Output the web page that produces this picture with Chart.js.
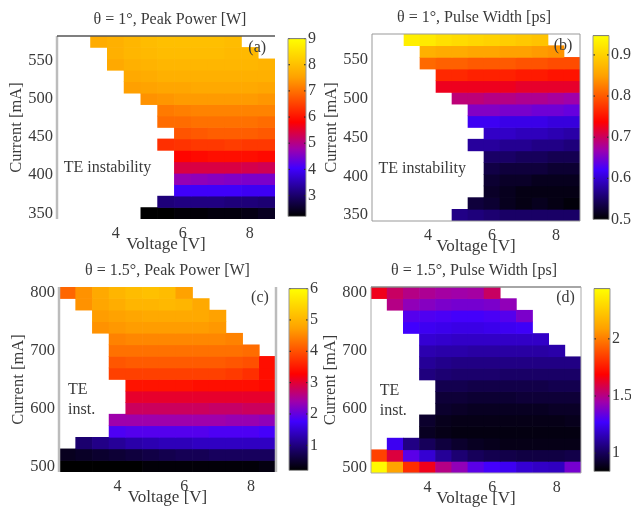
<!DOCTYPE html>
<html>
<head>
<meta charset="utf-8">
<title>Peak power and pulse width maps</title>
<script src="https://cdn.jsdelivr.net/npm/chart.js@4/dist/chart.umd.min.js"></script>
<style>
    html, body { margin: 0; background: #fff; }
    #page { position: relative; width: 631px; height: 509px; overflow: hidden; }
    canvas { position: absolute; filter: blur(0.6px); }
</style>
</head>
<body>
<div id="page"></div>
<script>
const _ = null; // white cell, no data (TE instability or outside the scan)

const voltages = [2.5, 3, 3.5, 4, 4.5, 5, 5.5, 6, 6.5, 7, 7.5, 8, 8.5];
const currentsA = [575, 560, 545, 530, 515, 500, 485, 470, 455, 440, 425, 410, 395, 380, 365, 350];
const currentsB = [800, 780, 760, 740, 720, 700, 680, 660, 640, 620, 600, 580, 560, 540, 520, 500];

const powerOne = [
    [_, _, 7.7, 7.75, 7.85, 7.95, 8.0, 8.0, 8.0, 8.0, 7.95, _, _],
    [_, _, _, 7.75, 7.85, 7.9, 7.95, 7.95, 7.95, 7.95, 7.9, 7.9, _],
    [_, _, _, 7.65, 7.75, 7.8, 7.85, 7.85, 7.85, 7.85, 7.85, 7.85, 7.8],
    [_, _, _, _, 7.65, 7.7, 7.75, 7.75, 7.75, 7.75, 7.75, 7.75, 7.75],
    [_, _, _, _, 7.5, 7.55, 7.6, 7.6, 7.65, 7.65, 7.65, 7.65, 7.6],
    [_, _, _, _, _, 7.35, 7.4, 7.45, 7.45, 7.45, 7.45, 7.45, 7.4],
    [_, _, _, _, _, _, 7.1, 7.15, 7.2, 7.2, 7.2, 7.2, 7.2],
    [_, _, _, _, _, _, 6.95, 6.95, 7.0, 7.0, 7.0, 7.0, 6.95],
    [_, _, _, _, _, _, _, 6.7, 6.75, 6.8, 6.8, 6.8, 6.75],
    [_, _, _, _, _, _, 6.3, 6.35, 6.4, 6.4, 6.45, 6.4, 6.4],
    [_, _, _, _, _, _, _, 5.85, 5.9, 5.95, 5.95, 5.95, 5.9],
    [_, _, _, _, _, _, _, 5.4, 5.4, 5.4, 5.4, 5.35, 5.3],
    [_, _, _, _, _, _, _, 4.7, 4.65, 4.6, 4.55, 4.5, 4.5],
    [_, _, _, _, _, _, _, 4.0, 4.0, 4.0, 4.0, 3.95, 3.95],
    [_, _, _, _, _, _, 3.1, 3.15, 3.15, 3.15, 3.1, 3.1, 3.05],
    [_, _, _, _, _, 2.2, 2.2, 2.25, 2.25, 2.3, 2.3, 2.35, 2.45]
];
const widthOne = [
    [_, _, 0.93, 0.925, 0.915, 0.91, 0.905, 0.9, 0.895, 0.89, 0.885, _, _],
    [_, _, _, 0.865, 0.86, 0.86, 0.855, 0.855, 0.85, 0.85, 0.845, 0.84, _],
    [_, _, _, 0.81, 0.805, 0.805, 0.8, 0.8, 0.8, 0.795, 0.795, 0.79, 0.79],
    [_, _, _, _, 0.765, 0.765, 0.76, 0.76, 0.76, 0.755, 0.755, 0.75, 0.75],
    [_, _, _, _, 0.725, 0.725, 0.725, 0.725, 0.725, 0.72, 0.72, 0.72, 0.72],
    [_, _, _, _, _, 0.69, 0.69, 0.685, 0.685, 0.68, 0.68, 0.675, 0.67],
    [_, _, _, _, _, _, 0.655, 0.655, 0.65, 0.65, 0.645, 0.645, 0.64],
    [_, _, _, _, _, _, 0.615, 0.615, 0.61, 0.61, 0.61, 0.605, 0.605],
    [_, _, _, _, _, _, _, 0.595, 0.595, 0.59, 0.59, 0.585, 0.58],
    [_, _, _, _, _, _, 0.575, 0.575, 0.57, 0.57, 0.565, 0.565, 0.56],
    [_, _, _, _, _, _, _, 0.55, 0.55, 0.545, 0.545, 0.54, 0.54],
    [_, _, _, _, _, _, _, 0.535, 0.53, 0.53, 0.53, 0.525, 0.525],
    [_, _, _, _, _, _, _, 0.525, 0.52, 0.52, 0.515, 0.515, 0.515],
    [_, _, _, _, _, _, _, 0.52, 0.515, 0.51, 0.51, 0.51, 0.51],
    [_, _, _, _, _, _, 0.53, 0.525, 0.515, 0.51, 0.515, 0.51, 0.505],
    [_, _, _, _, _, 0.565, 0.56, 0.555, 0.55, 0.55, 0.55, 0.55, 0.55]
];
const powerOneFive = [
    [4.2, 4.6, 4.85, 5.0, 5.1, 5.15, 5.1, 4.75, _, _, _, _, _],
    [_, 4.6, 4.8, 4.9, 5.0, 5.0, 5.05, 5.0, 4.85, _, _, _, _],
    [_, _, 4.7, 4.75, 4.8, 4.85, 4.85, 4.85, 4.85, 4.75, _, _, _],
    [_, _, 4.6, 4.65, 4.7, 4.7, 4.7, 4.7, 4.7, 4.65, _, _, _],
    [_, _, _, 4.45, 4.5, 4.5, 4.5, 4.5, 4.5, 4.5, 4.45, _, _],
    [_, _, _, 4.3, 4.3, 4.3, 4.3, 4.3, 4.3, 4.3, 4.3, 4.25, _],
    [_, _, _, 4.05, 4.1, 4.1, 4.1, 4.1, 4.1, 4.1, 4.05, 4.0, 3.4],
    [_, _, _, 3.85, 3.85, 3.85, 3.85, 3.85, 3.85, 3.85, 3.8, 3.7, 3.4],
    [_, _, _, _, 3.45, 3.45, 3.45, 3.45, 3.4, 3.4, 3.4, 3.4, 3.35],
    [_, _, _, _, 3.05, 3.05, 3.05, 3.05, 3.05, 3.05, 3.05, 3.05, 3.05],
    [_, _, _, _, 2.8, 2.8, 2.8, 2.8, 2.8, 2.75, 2.75, 2.8, 2.8],
    [_, _, _, 2.4, 2.4, 2.4, 2.4, 2.4, 2.4, 2.4, 2.35, 2.35, 2.3],
    [_, _, _, 1.85, 1.9, 1.9, 1.9, 1.9, 1.9, 1.85, 1.85, 1.85, 1.8],
    [_, 0.9, 1.05, 1.15, 1.25, 1.3, 1.35, 1.35, 1.4, 1.4, 1.4, 1.4, 1.4],
    [0.4, 0.45, 0.5, 0.55, 0.6, 0.65, 0.7, 0.75, 0.75, 0.8, 0.8, 0.8, 0.8],
    [0.2, 0.2, 0.2, 0.2, 0.2, 0.25, 0.25, 0.25, 0.25, 0.25, 0.25, 0.25, 0.3]
];
const widthOneFive = [
    [1.65, 1.55, 1.5, 1.48, 1.46, 1.45, 1.46, 1.55, _, _, _, _, _],
    [_, 1.5, 1.42, 1.4, 1.38, 1.37, 1.37, 1.38, 1.42, _, _, _, _],
    [_, _, 1.31, 1.3, 1.29, 1.28, 1.28, 1.29, 1.31, 1.38, _, _, _],
    [_, _, 1.27, 1.25, 1.24, 1.23, 1.23, 1.24, 1.25, 1.26, _, _, _],
    [_, _, _, 1.2, 1.19, 1.18, 1.18, 1.18, 1.18, 1.18, 1.18, _, _],
    [_, _, _, 1.14, 1.13, 1.13, 1.12, 1.12, 1.12, 1.12, 1.12, 1.13, _],
    [_, _, _, 1.1, 1.08, 1.07, 1.07, 1.07, 1.07, 1.07, 1.07, 1.07, 1.07],
    [_, _, _, 1.06, 1.04, 1.03, 1.03, 1.03, 1.02, 1.02, 1.02, 1.02, 1.02],
    [_, _, _, _, 0.98, 0.98, 0.97, 0.97, 0.97, 0.97, 0.97, 0.98, 0.98],
    [_, _, _, _, 0.94, 0.94, 0.93, 0.93, 0.93, 0.94, 0.94, 0.94, 0.94],
    [_, _, _, _, 0.92, 0.91, 0.9, 0.9, 0.9, 0.9, 0.9, 0.91, 0.91],
    [_, _, _, 0.92, 0.89, 0.88, 0.88, 0.88, 0.88, 0.88, 0.88, 0.88, 0.89],
    [_, _, _, 0.9, 0.88, 0.87, 0.87, 0.87, 0.87, 0.87, 0.87, 0.87, 0.87],
    [_, 1.25, 1.07, 1.0, 0.95, 0.92, 0.9, 0.89, 0.88, 0.88, 0.88, 0.88, 0.88],
    [1.85, 1.6, 1.32, 1.2, 1.1, 1.04, 1.0, 0.98, 0.97, 0.96, 0.96, 0.96, 0.97],
    [2.42, 2.1, 1.8, 1.65, 1.5, 1.42, 1.32, 1.28, 1.25, 1.2, 1.18, 1.17, 1.37]
];

const voltageTicks = [4, 6, 8];
const currentTicksA = [350, 400, 450, 500, 550];
const currentTicksB = [500, 600, 700, 800];

// colormap: black, blue, red, yellow
const cmapStops = [
    [0, [0, 0, 0]], [0.1, [22, 0, 90]], [0.27, [64, 0, 255]], [0.38, [160, 0, 170]],
    [0.53, [255, 0, 0]], [0.78, [255, 160, 0]], [1, [255, 255, 0]]
];

function cmap(t) {
    t = Math.min(1, Math.max(0, t));
    for (let i = 1; i < cmapStops.length; i++) {
        const [t1, c1] = cmapStops[i];
        if (t <= t1) {
            const [t0, c0] = cmapStops[i - 1];
            const f = (t - t0) / (t1 - t0);
            const c = c0.map((v, k) => Math.round(v + (c1[k] - v) * f));
            return `rgb(${c[0]},${c[1]},${c[2]})`;
        }
    }
    return 'rgb(255,255,0)';
}

const fontFamily = '"Liberation Serif", serif';
const textColor = '#3a3a3a';
const gutterLeft = 52, titleSpace = 28, gutterBottom = 36;

const panels = [
    {
        title: 'θ = 1°, Peak Power [W]', matrix: powerOne, currents: currentsA, step: 15,
        yMin: 342.5, yMax: 582.5, yTicks: currentTicksA,
        plot: [57, 36, 275, 219], titleShift: 4,
        frame: { left: [2.5, '#bcbcbc'], top: [1.5, '#555'] },
        notes: [['(a)', 8.22, 567, 'center'], ['TE instability', 2.45, 409, 'left']],
        bar: [287, 37, 305, 218], range: [2.2, 9], barTicks: [3, 4, 5, 6, 7, 8, 9]
    },
    {
        title: 'θ = 1°, Pulse Width [ps]', matrix: widthOne, currents: currentsA, step: 15,
        yMin: 342.5, yMax: 582.5, yTicks: currentTicksA,
        plot: [372, 34, 580, 221], titleShift: -2,
        frame: { left: [1, '#999'], top: [1, '#999'], right: [1, '#999'], bottom: [1, '#999'] },
        notes: [['(b)', 8.22, 567, 'center'], ['TE instability', 2.45, 409, 'left']],
        bar: [592, 34, 608, 221], range: [0.5, 0.947], barTicks: [0.5, 0.6, 0.7, 0.8, 0.9]
    },
    {
        title: 'θ = 1.5°, Peak Power [W]', matrix: powerOneFive, currents: currentsB, step: 20,
        yMin: 490, yMax: 810, yTicks: currentTicksB,
        plot: [59, 287, 276, 472], titleShift: 0,
        frame: { left: [2.5, '#bcbcbc'], right: [2.5, '#bcbcbc'] },
        notes: [['(c)', 8.27, 791, 'center'], ['TE', 2.52, 632, 'left'], ['inst.', 2.52, 597, 'left']],
        bar: [288, 287, 307, 472], range: [0.2, 6], barTicks: [1, 2, 3, 4, 5, 6]
    },
    {
        title: 'θ = 1.5°, Pulse Width [ps]', matrix: widthOneFive, currents: currentsB, step: 20,
        yMin: 490, yMax: 810, yTicks: currentTicksB,
        plot: [371, 287, 581, 473], titleShift: -2,
        frame: { left: [1, '#aaa'], top: [1.5, '#888'], right: [1, '#aaa'], bottom: [1, '#aaa'] },
        notes: [['(d)', 8.27, 791, 'center'], ['TE', 2.52, 632, 'left'], ['inst.', 2.52, 597, 'left']],
        bar: [593, 287, 609, 473], range: [0.84, 2.44], barTicks: [1, 1.5, 2]
    }
];

// Side lines, inner colorbar ticks and the text notes inside the axes
const panelDecor = {
    id: 'panelDecor',
    afterLayout(chart, args, opts) {
        if (opts.titleShift && chart.titleBlock) {
            chart.titleBlock.left += opts.titleShift;
            chart.titleBlock.right += opts.titleShift;
        }
    },
    afterDatasetsDraw(chart, args, opts) {
        const { ctx, chartArea: a, scales } = chart;
        ctx.save();
        (opts.notes || []).forEach(([text, x, y, align]) => {
            ctx.font = '16px ' + fontFamily;
            ctx.fillStyle = textColor;
            ctx.textAlign = align;
            ctx.textBaseline = 'middle';
            ctx.fillText(text, scales.x.getPixelForValue(x), scales.y.getPixelForValue(y));
        });
        (opts.innerTicks || []).forEach(v => {
            const py = scales.y.getPixelForValue(v);
            ctx.fillStyle = '#222';
            ctx.fillRect(a.left, py - 0.5, 2, 1);
            ctx.fillRect(a.right - 2, py - 0.5, 2, 1);
        });
        const sides = opts.frame || {};
        Object.keys(sides).forEach(side => {
            const [w, color] = sides[side];
            ctx.strokeStyle = color;
            ctx.lineWidth = w;
            ctx.beginPath();
            if (side === 'left' || side === 'right') {
                const x = a[side];
                ctx.moveTo(x, a.top);
                ctx.lineTo(x, a.bottom);
            } else {
                const y = a[side];
                ctx.moveTo(a.left, y);
                ctx.lineTo(a.right, y);
            }
            ctx.stroke();
        });
        ctx.restore();
    }
};

function addCanvas(left, top, width, height) {
    const canvas = document.createElement('canvas');
    canvas.style.left = left + 'px';
    canvas.style.top = top + 'px';
    canvas.style.width = width + 'px';
    canvas.style.height = height + 'px';
    canvas.width = width;
    canvas.height = height;
    document.getElementById('page').appendChild(canvas);
    return canvas;
}

function tickFont(size) {
    return { family: fontFamily, size: size };
}

function fixedTicks(values) {
    return axis => { axis.ticks = values.map(value => ({ value })); };
}

function drawHeatmap(p) {
    const [x0, y0, x1, y1] = p.plot;
    const canvas = addCanvas(x0 - gutterLeft, y0 - titleSpace, gutterLeft + x1 - x0 + 3, titleSpace + y1 - y0 + gutterBottom);
    const [lo, hi] = p.range;

    // one floating-bar dataset per current row
    const datasets = p.currents.map((current, r) => ({
        data: voltages
            .map((voltage, c) => ({ x: voltage, y: [current - p.step / 2, current + p.step / 2], v: p.matrix[r][c] }))
            .filter(cell => cell.v !== null),
        backgroundColor: ctx => cmap((ctx.raw.v - lo) / (hi - lo)),
        barPercentage: 1,
        categoryPercentage: 1,
        grouped: false
    }));

    new Chart(canvas, {
        type: 'bar',
        data: { datasets },
        plugins: [panelDecor],
        options: {
            responsive: false,
            animation: false,
            layout: { padding: { right: 3 } },
            plugins: {
                legend: { display: false },
                tooltip: { enabled: false },
                title: {
                    display: true,
                    text: p.title,
                    color: textColor,
                    fullSize: false,
                    font: { family: fontFamily, size: 16, weight: 'normal', lineHeight: '20px' },
                    padding: { top: 2, bottom: 6 }
                },
                panelDecor: { frame: p.frame, notes: p.notes, titleShift: p.titleShift }
            },
            scales: {
                x: {
                    type: 'linear', min: 2.25, max: 8.75, offset: false,
                    afterBuildTicks: fixedTicks(voltageTicks),
                    afterFit: scale => { scale.height = gutterBottom; },
                    grid: { display: false, drawTicks: false },
                    border: { display: false },
                    ticks: { color: textColor, font: tickFont(16), padding: 5, maxRotation: 0, callback: v => String(v) },
                    title: { display: true, text: 'Voltage [V]', color: textColor, font: tickFont(17), padding: 0 }
                },
                y: {
                    min: p.yMin, max: p.yMax,
                    afterBuildTicks: fixedTicks(p.yTicks),
                    afterFit: scale => { scale.width = gutterLeft; },
                    grid: { display: false, drawTicks: false },
                    border: { display: false },
                    ticks: { color: textColor, font: tickFont(16.5), padding: 4, callback: v => String(v) },
                    title: { display: true, text: 'Current [mA]', color: textColor, font: tickFont(16.5), padding: { top: 2, bottom: 2 } }
                }
            }
        }
    });
}

function drawColorbar(p) {
    const [x0, y0, x1, y1] = p.bar;
    const pad = 10, labelSpace = 30;
    const canvas = addCanvas(x0, y0 - pad, Math.min(x1 - x0 + labelSpace, 631 - x0), y1 - y0 + 2 * pad);
    const [lo, hi] = p.range;

    new Chart(canvas, {
        type: 'bar',
        data: {
            labels: [''],
            datasets: [{
                data: [[lo, hi]],
                barPercentage: 1,
                categoryPercentage: 1,
                backgroundColor: ctx => {
                    const area = ctx.chart.chartArea;
                    if (!area) return '#000';
                    const g = ctx.chart.ctx.createLinearGradient(0, area.bottom, 0, area.top);
                    for (let i = 0; i < cmapStops.length; i++) {
                        g.addColorStop(cmapStops[i][0], cmap(cmapStops[i][0]));
                    }
                    return g;
                }
            }]
        },
        plugins: [panelDecor],
        options: {
            responsive: false,
            animation: false,
            layout: { padding: { top: pad, bottom: pad, left: 1 } },
            plugins: {
                legend: { display: false },
                tooltip: { enabled: false },
                panelDecor: {
                    innerTicks: p.barTicks,
                    frame: { left: [1, '#999'], top: [1, '#777'], right: [1, '#999'], bottom: [1, '#999'] }
                }
            },
            scales: {
                x: { display: false },
                y: {
                    position: 'right',
                    min: lo, max: hi,
                    afterBuildTicks: fixedTicks(p.barTicks),
                    afterFit: scale => { scale.width = canvas.width - (x1 - x0) - 1; },
                    grid: { display: false, drawTicks: false },
                    border: { display: false },
                    ticks: { color: textColor, font: tickFont(16), padding: 2, callback: v => String(v) }
                }
            }
        }
    });
}

window.addEventListener('DOMContentLoaded', () => {
    panels.forEach(p => {
        drawHeatmap(p);
        drawColorbar(p);
    });
});
</script>
</body>
</html>
